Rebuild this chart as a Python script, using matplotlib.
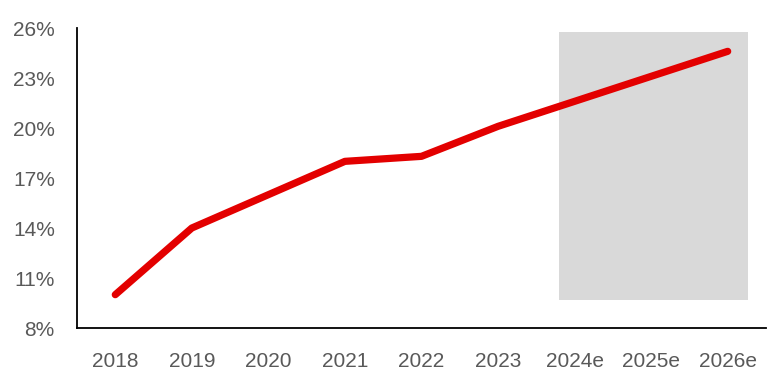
import matplotlib.pyplot as plt
from matplotlib.patches import Rectangle

anos = ['2018', '2019', '2020', '2021', '2022', '2023', '2024e', '2025e', '2026e']
valores = [10.0, 14.0, 16.0, 18.0, 18.3, 20.1, 21.6, 23.1, 24.6]
yticks = [8, 11, 14, 17, 20, 23, 26]

plt.rcParams['font.family'] = ['Liberation Sans', 'DejaVu Sans']

fig = plt.figure(figsize=(7.77, 3.8), dpi=100)
ax = fig.add_axes([0.0991, 0.1368, 0.8867, 0.7895])

x = list(range(len(anos)))

# area das estimativas
ax.add_patch(Rectangle((5.8, 9.7), 2.46, 16.05, facecolor='#D9D9D9', edgecolor='none', zorder=1))

ax.plot(x, valores, color='#E30000', linewidth=5.2, solid_capstyle='round',
        solid_joinstyle='round', zorder=3)

ax.set_xlim(-0.5, 8.5)
ax.set_ylim(8, 26)
ax.set_xticks(x)
ax.set_xticklabels(anos)
ax.set_yticks(yticks)
ax.set_yticklabels([f'{v}%' for v in yticks])

for lado in ['top', 'right']:
    ax.spines[lado].set_visible(False)
for lado in ['left', 'bottom']:
    ax.spines[lado].set_linewidth(1.3)
    ax.spines[lado].set_color('black')

ax.tick_params(axis='both', length=0, labelsize=15, labelcolor='#595959')
ax.tick_params(axis='y', pad=16)
ax.tick_params(axis='x', pad=17)

plt.savefig('out.png', dpi=100)
